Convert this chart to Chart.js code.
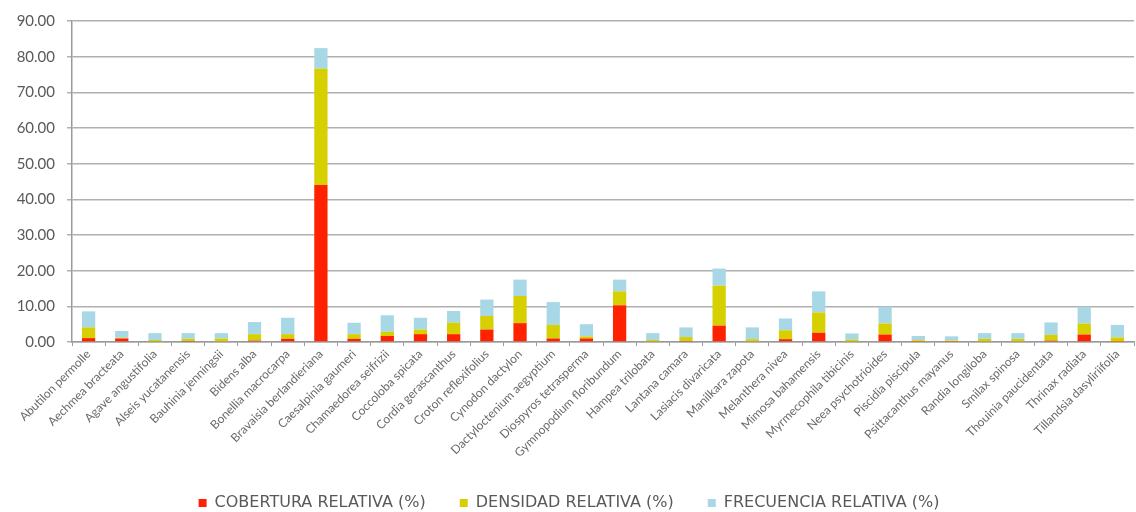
<!DOCTYPE html>
<html>
<head>
<meta charset="utf-8">
<script src="https://cdn.jsdelivr.net/npm/chart.js@4/dist/chart.umd.min.js"></script>
<style>
  html, body { margin: 0; padding: 0; background: #fff; }
  #wrap { width: 1136px; height: 512px; }
</style>
</head>
<body>
<div id="wrap"><canvas id="especiesChart"></canvas></div>
<script>
const especies = [
    'Abutilon permolle', 'Aechmea bracteata', 'Agave angustifolia', 'Alseis yucatanensis',
    'Bauhinia jenningsii', 'Bidens alba', 'Bonellia macrocarpa', 'Bravaisia berlandieriana',
    'Caesalpinia gaumeri', 'Chamaedorea seifrizii', 'Coccoloba spicata', 'Cordia gerascanthus',
    'Croton reflexifolius', 'Cynodon dactylon', 'Dactyloctenium aegyptium', 'Diospyros tetrasperma',
    'Gymnopodium floribundum', 'Hampea trilobata', 'Lantana camara', 'Lasiacis divaricata',
    'Manilkara zapota', 'Melanthera nivea', 'Mimosa bahamensis', 'Myrmecophila tibicinis',
    'Neea psychotrioides', 'Piscidia piscipula', 'Psittacanthus mayanus', 'Randia longiloba',
    'Smilax spinosa', 'Thouinia paucidentata', 'Thrinax radiata', 'Tillandsia dasyliriifolia'
];

const cobertura = [1.1, 1.0, 0.2, 0.3, 0.2, 0.4, 0.9, 44.0, 0.9, 1.7, 2.2, 2.2, 3.5, 5.3, 1.0, 1.0,
    10.3, 0.2, 0.3, 4.6, 0.2, 0.8, 2.6, 0.2, 2.1, 0.1, 0.1, 0.2, 0.2, 0.4, 2.1, 0.1];
const densidad = [3.0, 0.2, 0.4, 0.6, 0.8, 1.8, 1.3, 32.6, 1.3, 1.2, 1.3, 3.2, 3.8, 7.6, 3.8, 0.6,
    3.9, 0.4, 1.1, 11.2, 0.6, 2.5, 5.7, 0.5, 3.1, 0.4, 0.3, 0.7, 0.7, 1.6, 3.1, 1.2];
const frecuencia = [4.5, 1.9, 1.9, 1.6, 1.5, 3.4, 4.6, 5.8, 3.2, 4.6, 3.3, 3.3, 4.6, 4.6, 6.4, 3.4,
    3.3, 1.9, 2.7, 4.8, 3.3, 3.3, 5.9, 1.7, 4.7, 1.2, 1.2, 1.6, 1.6, 3.5, 4.7, 3.5];

const ctx = document.getElementById('especiesChart');

new Chart(ctx, {
    type: 'bar',
    data: {
        labels: especies,
        datasets: [{
            label: 'COBERTURA RELATIVA (%)',
            data: cobertura,
            backgroundColor: '#ff2200'
        }, {
            label: 'DENSIDAD RELATIVA (%)',
            data: densidad,
            backgroundColor: '#d6d000'
        }, {
            label: 'FRECUENCIA RELATIVA (%)',
            data: frecuencia,
            backgroundColor: '#a8d8e6'
        }]
    },
    options: {
        responsive: true,
        maintainAspectRatio: false,
        animation: false,
        barPercentage: 0.4,
        categoryPercentage: 1.0,
        layout: {
            padding: { top: 13, right: 2, left: 4, bottom: -9 }
        },
        plugins: {
            tooltip: { enabled: false },
            legend: {
                position: 'bottom',
                labels: {
                    color: '#595959',
                    boxWidth: 8,
                    boxHeight: 8,
                    padding: 34,
                    font: { family: 'DejaVu Sans', size: 16 }
                }
            }
        },
        scales: {
            x: {
                stacked: true,
                border: { color: '#9a9a9a', width: 1.5 },
                grid: {
                    drawOnChartArea: false,
                    drawTicks: true,
                    tickLength: 4,
                    color: '#9a9a9a'
                },
                ticks: {
                    color: '#6a6a6a',
                    padding: 1,
                    minRotation: 45,
                    maxRotation: 45,
                    autoSkip: false,
                    font: { family: 'Lato', size: 12 }
                }
            },
            y: {
                stacked: true,
                min: 0,
                max: 90,
                afterFit: function (scale) { scale.width = 68; },
                border: { color: '#9a9a9a', width: 1.5 },
                grid: {
                    color: '#b0b0b0',
                    lineWidth: 1.5,
                    tickLength: 5
                },
                ticks: {
                    stepSize: 10,
                    color: '#595959',
                    padding: 12,
                    font: { family: 'Lato', size: 15 },
                    callback: function (v) { return v.toFixed(2); }
                }
            }
        }
    }
});
</script>
</body>
</html>
